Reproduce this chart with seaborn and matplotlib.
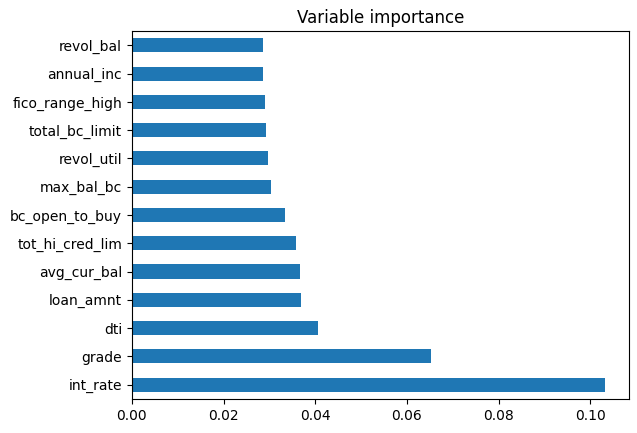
import seaborn as sns
import pandas as pd
import matplotlib.pyplot as plt

# top to bottom, as drawn
features = ["revol_bal", "annual_inc", "fico_range_high", "total_bc_limit", "revol_util",
            "max_bal_bc", "bc_open_to_buy", "tot_hi_cred_lim", "avg_cur_bal", "loan_amnt",
            "dti", "grade", "int_rate"]
importance = [0.0285, 0.0287, 0.0291, 0.0293, 0.0296,
              0.0304, 0.0333, 0.0357, 0.0366, 0.0368,
              0.0405, 0.0653, 0.1032]

df = pd.DataFrame({"feature": features, "importance": importance})

fig, ax = plt.subplots(figsize=(6.37, 4.33), dpi=100)
fig.subplots_adjust(left=0.207, right=0.987, top=0.928, bottom=0.079)
sns.barplot(data=df, y="feature", x="importance", order=features, orient="h",
            color="#1f77b4", saturation=1, width=0.5, ax=ax)
ax.set_xlim(0, max(importance) * 1.05)
ax.set_ylim(len(features) - 0.5, -0.5)
ax.set_xlabel("")
ax.set_ylabel("")
ax.set_title("Variable importance")
plt.savefig("out.png", dpi=100)
